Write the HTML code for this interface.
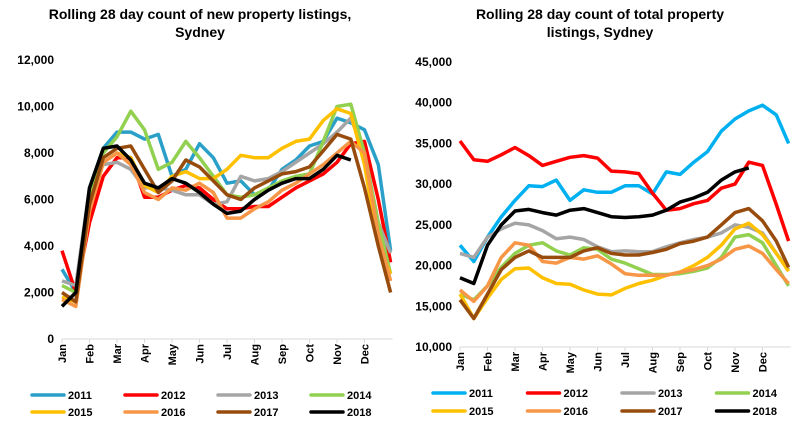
<!DOCTYPE html>
<html><head><meta charset="utf-8">
<style>
body{margin:0;background:#fff;}
svg{display:block;font-family:"Liberation Sans",sans-serif;}
.t{font-weight:bold;font-size:14px;fill:#000;}
.yl{font-weight:bold;font-size:12px;fill:#000;}
.xl{font-weight:bold;font-size:11px;fill:#000;}
.lg{font-weight:bold;font-size:11px;fill:#000;}
</style></head>
<body>
<svg id="c" width="801" height="430"></svg>
<script>
const months=["Jan","Feb","Mar","Apr","May","Jun","Jul","Aug","Sep","Oct","Nov","Dec"];
const years=["2011","2012","2013","2014","2015","2016","2017","2018"];
const tGrid=[0,0.5,1,1.5,2,2.5,3,3.5,4,4.5,5,5.5,6,6.5,7,7.5,8,8.5,9,9.5,10,10.5,11,11.5,11.95];
const leftTicks=[0,2000,4000,6000,8000,10000,12000];
const rightTicks=[10000,15000,20000,25000,30000,35000,40000,45000];
const newL2011=[3000,2000,6500,8200,8900,8900,8600,8800,7000,7300,8400,7800,6700,6800,6200,6400,7300,7700,8300,8500,9500,9300,9000,7500,3800];
const newL2012=[3800,2000,5000,7000,7800,7800,6100,6100,6400,6600,6500,6000,5600,5600,5700,5700,6100,6500,6800,7100,7600,8400,8500,6000,3300];
const newL2013=[2500,2300,6500,7500,7600,7300,6500,6500,6400,6200,6200,5800,5900,7000,6800,6900,7200,7600,8000,8400,8900,9500,8000,5000,3700];
const newL2014=[2300,2000,6000,8000,8700,9800,9000,7300,7600,8500,7800,7000,6200,6100,6200,6500,6800,7000,7100,8500,10000,10100,8000,5000,2800];
const newL2015=[1800,1600,5500,7600,8000,7800,6600,6300,7000,7200,6900,6900,7300,7900,7800,7800,8200,8500,8600,9400,9900,9700,7500,4000,2800];
const newL2016=[1700,1400,5500,7600,8000,7500,6300,6000,6500,6400,6700,6300,5200,5200,5600,5900,6400,6700,7100,7500,8000,8500,8000,4500,2500];
const newL2017=[2000,1600,5800,7800,8200,8300,7300,6300,6800,7700,7400,6800,6200,6000,6500,6800,7100,7200,7400,8100,8800,8600,6500,4000,2000];
const newL2018=[1400,2000,6500,8200,8300,7700,6700,6500,6900,6700,6300,5800,5400,5500,6000,6400,6700,6900,6900,7300,7900,7700,null,null,null];
const totL2011=[22500,20500,23500,26000,28000,29800,29700,30500,28000,29300,29000,29000,29800,29800,28800,31500,31200,32700,34000,36500,38000,39000,39700,38500,35000];
const totL2012=[35300,33000,32800,33600,34500,33500,32300,32800,33300,33500,33200,31600,31500,31300,28900,26800,27000,27600,28000,29500,30000,32700,32300,27500,23000];
const totL2013=[21500,21000,23500,24500,25200,25000,24300,23300,23500,23200,22300,21700,21800,21700,21700,22300,22800,23200,23500,24000,25000,24700,24000,21500,19500];
const totL2014=[16500,15800,17500,19800,21500,22500,22800,21800,21300,22200,22000,20800,20300,19600,18900,18900,19000,19300,19700,21000,23500,23800,22800,20000,17500];
const totL2015=[16500,13500,16000,18300,19600,19700,18500,17800,17700,17000,16500,16400,17200,17800,18200,18800,19200,20000,21000,22500,24500,25200,23800,21500,19300];
const totL2016=[17000,15600,17500,21000,22800,22500,20500,20300,21000,20800,21200,20200,19000,18800,18800,18800,19200,19500,20000,20800,22000,22400,21500,19500,17800];
const totL2017=[15800,13500,16500,19500,21000,21800,21000,21000,21000,21800,22200,21500,21300,21300,21600,22000,22700,23000,23500,25000,26500,27000,25500,23000,19800];
const totL2018=[18500,17800,22500,25000,26700,26900,26500,26200,26800,27000,26500,26000,25900,26000,26200,26800,27800,28300,29000,30500,31500,32000,null,null,null];
const leftSeries=[newL2011,newL2012,newL2013,newL2014,newL2015,newL2016,newL2017,newL2018];
const rightSeries=[totL2011,totL2012,totL2013,totL2014,totL2015,totL2016,totL2017,totL2018];
const colL=["#2aa0c8","#ff0000","#a5a5a5","#92d050","#ffc000","#f79646","#974c0d","#000000"];
const colR=["#00b0f0","#ff0000","#a5a5a5","#92d050","#ffc000","#f79646","#974c0d","#000000"];

const svg=document.getElementById('c');
const NS="http://www.w3.org/2000/svg";
function mk(tag,attrs,parent){const e=document.createElementNS(NS,tag);for(const k in attrs)e.setAttribute(k,attrs[k]);(parent||svg).appendChild(e);return e;}

function panel(cfg){
  const g=mk('g',{});
  
  
  const xS=t=>cfg.x0+t*cfg.mw;
  const yS=v=>cfg.yb-(v-cfg.vmin)/(cfg.vmax-cfg.vmin)*(cfg.yb-cfg.yt);
  cfg.title.forEach((s,i)=>{const t=mk('text',{x:cfg.tx,y:19+i*18,'text-anchor':'middle',class:'t'},g);t.textContent=s;
    });
  cfg.ticks.forEach(v=>{const t=mk('text',{x:cfg.x0-8,y:yS(v)+4,'text-anchor':'end',class:'yl'},g);t.textContent=v===0?'0':v.toLocaleString('en-US');
    });
  const ax=mk('line',{x1:cfg.x0,x2:cfg.x0+11.95*cfg.mw+2,y1:cfg.yb,y2:cfg.yb,stroke:'#d9d9d9','stroke-width':1},g);
  
  months.forEach((m,i)=>{const x=xS(i);
    mk('line',{x1:x,x2:x,y1:cfg.yb,y2:cfg.yb+4,stroke:'#d9d9d9'},g);
    const t=mk('text',{x:0,y:0,'text-anchor':'end',class:'xl',transform:`translate(${x+4},${cfg.yb+5}) rotate(-90)`},g);t.textContent=m;
    });
  cfg.series.forEach((arr,si)=>{let d='';let first=true;
    arr.forEach((v,i)=>{if(v===null)return;d+=(first?'M':'L')+xS(tGrid[i]).toFixed(1)+','+yS(v).toFixed(1);first=false;});
    const p=mk('path',{d:d,fill:'none',stroke:cfg.cols[si],'stroke-width':3.5,'stroke-linejoin':'round'},g);
    });
  years.forEach((y,i)=>{const lx=cfg.lx+(i%4)*cfg.ls, ly=i<4?cfg.ly1:cfg.ly2;
    const lg=mk('g',{},g);
    
    mk('line',{x1:lx,x2:lx+32,y1:ly,y2:ly,stroke:cfg.cols[i],'stroke-width':3.5,'stroke-linecap':'round'},lg);
    const t=mk('text',{x:lx+36,y:ly+4,class:'lg'},lg);t.textContent=y;});
}
panel({name:'new-listings-chart',title:["Rolling 28 day count of new property listings,","Sydney"],tx:200,
  x0:62,mw:27.5,yb:339,yt:60,vmin:0,vmax:12000,ticks:leftTicks,series:leftSeries,cols:colL,lx:32,ls:93,ly1:395,ly2:412});
panel({name:'total-listings-chart',title:["Rolling 28 day count of total property","listings, Sydney"],tx:600,
  x0:460,mw:27.5,yb:347,yt:62,vmin:10000,vmax:45000,ticks:rightTicks,series:rightSeries,cols:colR,lx:433,ls:94.5,ly1:393,ly2:411});
</script>
</body></html>
